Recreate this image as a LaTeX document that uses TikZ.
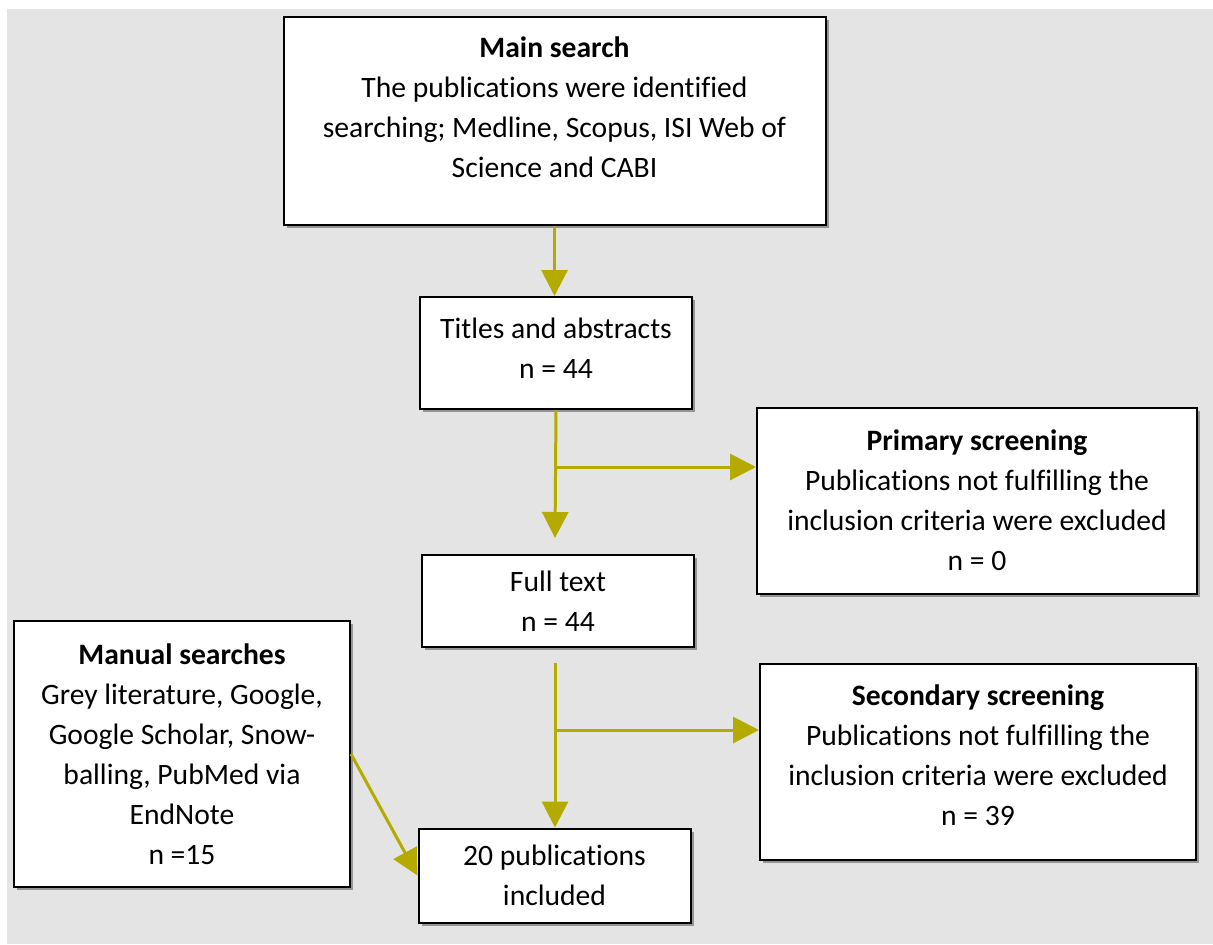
\documentclass[tikz,border=0pt]{standalone}
\usepackage{fontspec}
\setmainfont[Ligatures=NoCommon]{Carlito}
\usetikzlibrary{arrows.meta,shadows}
\definecolor{flowarrow}{RGB}{180,170,0}
\definecolor{panel}{RGB}{228,228,228}
\begin{document}
\begin{tikzpicture}[x=0.5pt, y=-0.5pt,
	box/.style={draw=black, line width=1pt, fill=white, align=center, inner sep=0pt,
		font=\fontsize{14.8}{20}\selectfont,
		drop shadow={shadow xshift=1.5pt, shadow yshift=-1.5pt, fill=black, opacity=0.35}},
	flow/.style={draw=flowarrow, line width=1.5pt, -{Triangle[width=13pt,length=13pt]}}]
	\useasboundingbox (0,0) rectangle (1213,944);
	\fill[panel] (7,9) rectangle (1213,944);

	% Define the boxes at fixed positions
	\node[box, minimum width=271pt, minimum height=104pt] (main) at (554.5, 121)
		{\textbf{Main search}\\The publications were identified\\searching; Medline, Scopus, ISI Web of\\Science and CABI\\[-6pt]~};
	\node[box, minimum width=136pt, minimum height=56pt] (titles) at (556, 353)
		{Titles and abstracts\\n = 44\\[-15pt]~};
	\node[box, minimum width=220pt, minimum height=93pt] (primary) at (977, 500.5)
		{\textbf{Primary screening}\\Publications not fulfilling the\\inclusion criteria were excluded\\n = 0};
	\node[box, minimum width=136pt, minimum height=46pt] (full) at (558, 601)
		{Full text\\n = 44};
	\node[box, minimum width=168pt, minimum height=133pt] (manual) at (182, 754)
		{\textbf{Manual searches}\\Grey literature, Google,\\Google Scholar, Snow-\\balling, PubMed via\\EndNote\\n =15};
	\node[box, minimum width=218pt, minimum height=98pt] (secondary) at (978, 762)
		{\textbf{Secondary screening}\\Publications not fulfilling the\\inclusion criteria were excluded\\n = 39\\[-13pt]~};
	\node[box, minimum width=136pt, minimum height=47pt] (included) at (554.5, 875.5)
		{20 publications\\included};

	% Free ends of the arrows
	\coordinate (fork1) at (555, 467);
	\coordinate (down1) at (555, 538);
	\coordinate (start2) at (555, 663);
	\coordinate (fork2) at (555, 730);

	% Draw the arrows between the boxes
	\draw[flow] (main.south) -- (main.south |- titles.north);
	\draw[flow] (titles.south) -- (down1);
	\draw[flow] (fork1) -- (fork1 -| primary.west);
	\draw[flow] (start2) -- (start2 |- included.north);
	\draw[flow] (fork2) -- (fork2 -| secondary.west);
	\draw[flow] (manual.east) -- (included.west);
\end{tikzpicture}
\end{document}
